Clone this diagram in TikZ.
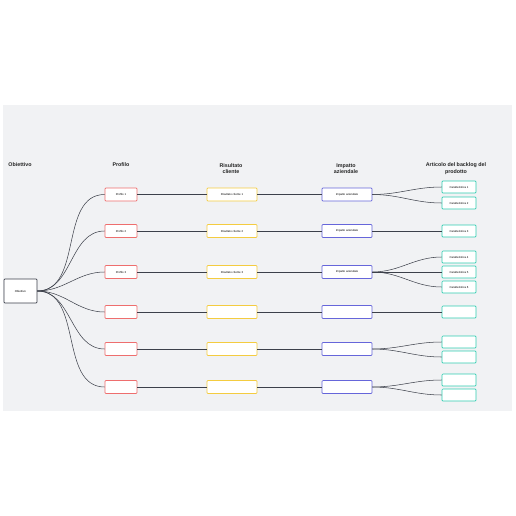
\documentclass[tikz,border=0pt]{standalone}
\usepackage{fontspec}
\setmainfont{Liberation Sans}
\usepackage{xcolor}
\usepackage{tikz}
\usetikzlibrary{arrows.meta, positioning, calc}

\definecolor{bgpanel}{HTML}{F1F2F4}
\definecolor{linkgray}{HTML}{3C404A}
\definecolor{profred}{HTML}{EE6E6E}
\definecolor{resyellow}{HTML}{F4CC40}
\definecolor{impblue}{HTML}{6666DA}
\definecolor{featteal}{HTML}{30CCB0}

\begin{document}
\begin{tikzpicture}[
    x=0.5mm, y=-0.5mm,
    box/.style={rectangle, fill=white, line width=0.85pt, rounded corners=1.3pt, inner sep=0pt, font=\fontsize{4}{4.5}\selectfont},
    goalb/.style={box, draw=linkgray, minimum width=16.5mm, minimum height=12mm},
    profb/.style={box, draw=profred, minimum width=16mm, minimum height=6.5mm},
    resb/.style={box, draw=resyellow, minimum width=25mm, minimum height=6.5mm},
    impb/.style={box, draw=impblue, minimum width=25mm, minimum height=6.5mm},
    featb/.style={box, draw=featteal, minimum width=17mm, minimum height=6mm},
    head/.style={font=\fontsize{7.6}{9}\selectfont\bfseries, align=center, text=black!85},
    link/.style={draw=linkgray, line width=0.75pt}
]
    \useasboundingbox (0,0) rectangle (516,516);
    \fill[bgpanel] (3,105) rectangle (512,411);

    % column headers
    \node[head] (h1) at (20,165) {Obiettivo};
    \node[head] (h2) at (121,165) {Profilo};
    \node[head] (h3) at (231,168.5) {Risultato\\cliente};
    \node[head] (h4) at (346,168.5) {Impatto\\aziendale};
    \node[head] (h5) at (456,168.5) {Articolo del backlog del\\prodotto};

    % goal
    \node[goalb] (g) at (20.5,291) {Obiettivo};

    % profiles
    \node[profb] (p1) at (121,194.5) {Profilo 1};
    \node[profb] (p2) at (121,231) {Profilo 2};
    \node[profb] (p3) at (121,272) {Profilo 3};
    \node[profb] (p4) at (121,312) {};
    \node[profb] (p5) at (121,349) {};
    \node[profb] (p6) at (121,387) {};

    % customer results
    \node[resb] (r1) at (232,194.5) {Risultato cliente 1};
    \node[resb] (r2) at (232,231) {Risultato cliente 2};
    \node[resb] (r3) at (232,272) {Risultato cliente 3};
    \node[resb] (r4) at (232,312) {};
    \node[resb] (r5) at (232,349) {};
    \node[resb] (r6) at (232,387) {};

    % business impact
    \node[impb] (i1) at (347,194.5) {Impatto aziendale};
    \node[impb] (i2) at (347,231) {Impatto aziendale};
    \node[impb] (i3) at (347,272) {Impatto aziendale};
    \node[impb] (i4) at (347,312) {};
    \node[impb] (i5) at (347,349) {};
    \node[impb] (i6) at (347,387) {};

    % backlog items
    \node[featb] (f1) at (459,187) {Caratteristica 1};
    \node[featb] (f2) at (459,203) {Caratteristica 2};
    \node[featb] (f3) at (459,231) {Caratteristica 3};
    \node[featb] (f4) at (459,257) {Caratteristica 4};
    \node[featb] (f5) at (459,272) {Caratteristica 5};
    \node[featb] (f6) at (459,287) {Caratteristica 6};
    \node[featb] (f7) at (459,312) {};
    \node[featb] (f8) at (459,342) {};
    \node[featb] (f9) at (459,357) {};
    \node[featb] (f10) at (459,380) {};
    \node[featb] (f11) at (459,395) {};

    % goal to profiles
    \draw[link] (g.east) to[out=0, in=180] (p1.west);
    \draw[link] (g.east) to[out=0, in=180] (p2.west);
    \draw[link] (g.east) to[out=0, in=180] (p3.west);
    \draw[link] (g.east) to[out=0, in=180] (p4.west);
    \draw[link] (g.east) to[out=0, in=180] (p5.west);
    \draw[link] (g.east) to[out=0, in=180] (p6.west);

    % rows
    \draw[link] (p1) -- (r1) -- (i1);
    \draw[link] (p2) -- (r2) -- (i2);
    \draw[link] (p3) -- (r3) -- (i3);
    \draw[link] (p4) -- (r4) -- (i4);
    \draw[link] (p5) -- (r5) -- (i5);
    \draw[link] (p6) -- (r6) -- (i6);

    % impact to backlog
    \draw[link] (i1.east) to[out=0, in=180] (f1.west);
    \draw[link] (i1.east) to[out=0, in=180] (f2.west);
    \draw[link] (i2) -- (f3);
    \draw[link] (i3.east) to[out=0, in=180] (f4.west);
    \draw[link] (i3) -- (f5);
    \draw[link] (i3.east) to[out=0, in=180] (f6.west);
    \draw[link] (i4) -- (f7);
    \draw[link] (i5.east) to[out=0, in=180] (f8.west);
    \draw[link] (i5.east) to[out=0, in=180] (f9.west);
    \draw[link] (i6.east) to[out=0, in=180] (f10.west);
    \draw[link] (i6.east) to[out=0, in=180] (f11.west);
\end{tikzpicture}
\end{document}
